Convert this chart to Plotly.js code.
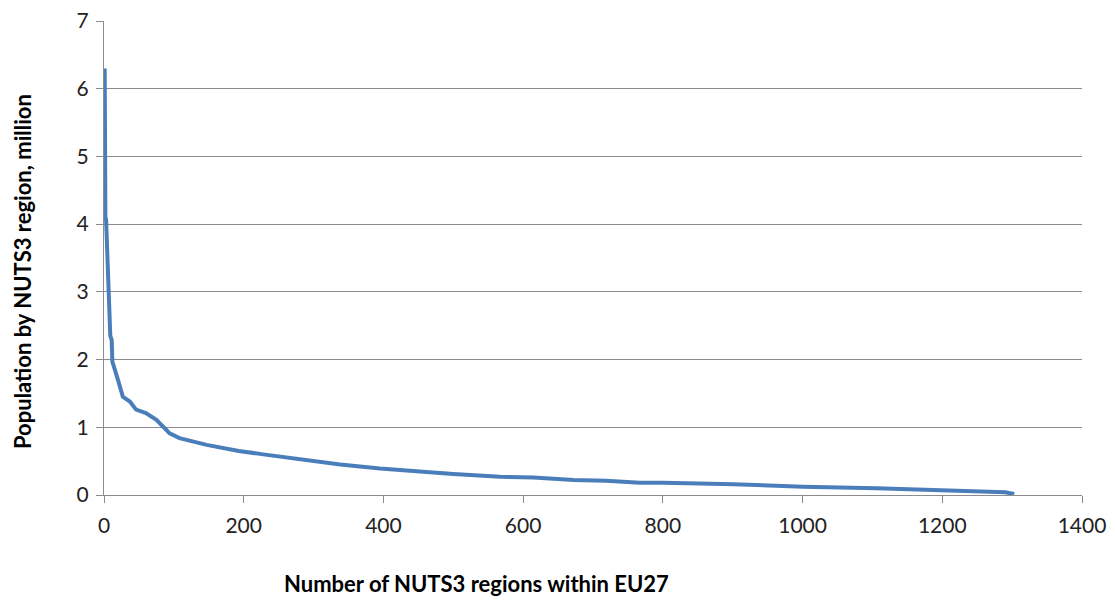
<!DOCTYPE html>
<html>
<head>
<meta charset="utf-8">
<script src="https://cdn.plot.ly/plotly-3.0.1.min.js"></script>
<style>html,body{margin:0;padding:0;background:#fff;}#chart{width:1115px;height:601px;}</style>
</head>
<body>
<div id="chart"></div>
<script>
// Rank of NUTS3 region (sorted by population, descending)
const regionRank = [1, 1, 2, 3, 6, 7, 9, 11, 12, 20, 27, 37, 46, 60, 75, 94, 108, 147, 193, 228, 242, 266, 290, 338, 395, 443, 500, 567, 615, 672, 719, 767, 801, 901, 1001, 1106, 1202, 1259, 1290, 1303];
// Population, million
const populationMillion = [6.30, 4.30, 4.11, 4.06, 3.13, 2.54, 2.35, 2.29, 1.97, 1.70, 1.45, 1.38, 1.26, 1.21, 1.11, 0.91, 0.84, 0.74, 0.65, 0.60, 0.58, 0.54, 0.51, 0.45, 0.39, 0.35, 0.31, 0.27, 0.26, 0.22, 0.21, 0.18, 0.18, 0.16, 0.12, 0.10, 0.07, 0.05, 0.04, 0.015];
const xTicks = [0, 200, 400, 600, 800, 1000, 1200, 1400];
const yTicks = [0, 1, 2, 3, 4, 5, 6, 7];
const xTitle = "Number of NUTS3 regions within EU27";
const yTitle = "Population by NUTS3 region, million";

const font = "Lato, 'Open Sans', sans-serif";

Plotly.newPlot("chart", [{
  x: regionRank,
  y: populationMillion,
  type: "scatter",
  mode: "lines",
  line: {color: "#4a7ebb", width: 4},
  hoverinfo: "skip"
}], {
  width: 1115,
  height: 601,
  margin: {l: 104, r: 33, t: 21, b: 106},
  paper_bgcolor: "#ffffff",
  plot_bgcolor: "#ffffff",
  showlegend: false,
  font: {family: font, color: "#222"},
  xaxis: {
    range: [0, 1400],
    tickvals: xTicks,
    ticktext: xTicks.map(String),
    showgrid: false,
    zeroline: false,
    showline: true,
    linecolor: "#8c8c8c",
    linewidth: 1,
    ticks: "outside",
    ticklen: 7,
    tickcolor: "#8c8c8c",
    ticklabelstandoff: 5,
    tickfont: {family: font, size: 21, color: "#222"},
    fixedrange: true
  },
  yaxis: {
    range: [0, 7],
    tickvals: yTicks,
    ticktext: yTicks.map(String),
    showgrid: true,
    gridcolor: "#8c8c8c",
    gridwidth: 1,
    zeroline: false,
    showline: true,
    linecolor: "#8c8c8c",
    linewidth: 1,
    ticks: "outside",
    ticklen: 7,
    tickcolor: "#8c8c8c",
    ticklabelstandoff: 3,
    tickfont: {family: font, size: 21, color: "#222"},
    fixedrange: true
  },
  annotations: [
    {text: "<b>" + xTitle + "</b>", xref: "paper", yref: "paper",
     x: (476 - 104) / 978, y: -(583 - 495) / 474, xanchor: "center", yanchor: "middle",
     showarrow: false, font: {family: font, size: 22, color: "#000"}},
    {text: "<b>" + yTitle + "</b>", xref: "paper", yref: "paper",
     x: -(104 - 22) / 978, y: (495 - 272) / 474, xanchor: "center", yanchor: "middle",
     textangle: -90, showarrow: false, font: {family: font, size: 22, color: "#000"}}
  ]
}, {displayModeBar: false, staticPlot: true});
</script>
</body>
</html>
